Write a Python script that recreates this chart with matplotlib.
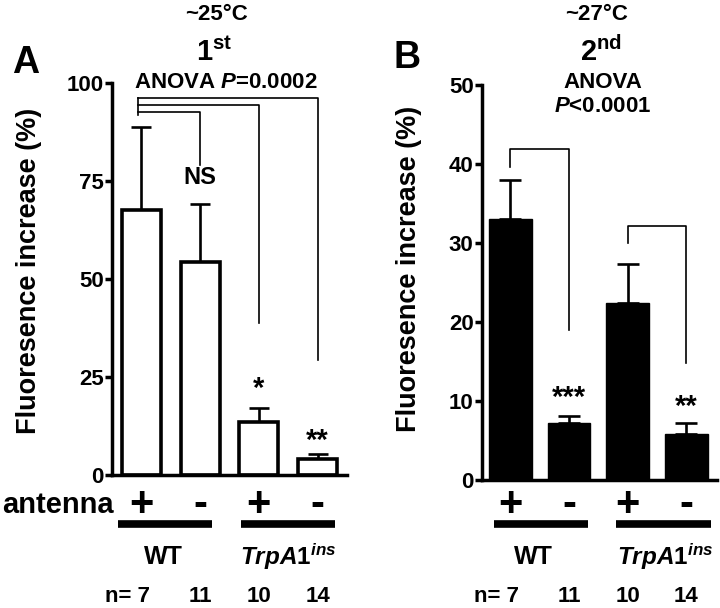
import numpy as np
import matplotlib
matplotlib.use('Agg')
import matplotlib.pyplot as plt
import matplotlib.transforms as mtransforms

plt.rcParams['font.family'] = ['Liberation Sans', 'DejaVu Sans']
plt.rcParams['font.weight'] = 'bold'
plt.rcParams['mathtext.fontset'] = 'custom'
plt.rcParams['mathtext.rm'] = 'Liberation Sans:bold'
plt.rcParams['mathtext.bf'] = 'Liberation Sans:bold'
plt.rcParams['mathtext.it'] = 'Liberation Sans:italic:bold'

# data
groups = ['WT', 'WT', 'TrpA1', 'TrpA1']
antenna = ['+', '-', '+', '-']
n_vals = ['7', '11', '10', '14']

a_mean = [67.6, 54.3, 13.6, 4.1]
a_err = [21.2, 14.8, 3.4, 1.3]
a_stars = ['', 'NS', '*', '**']
a_star_y = [None, 76, 22.0, 8.8]

b_mean = [33.0, 7.2, 22.4, 5.8]
b_err = [5.0, 0.9, 4.9, 1.4]
b_stars = ['', '***', '', '**']
b_star_y = [None, 10.4, None, 9.2]

W, H = 720, 608
fig = plt.figure(figsize=(W / 100, H / 100), dpi=100)


def fx(px):
    return px / W


def fy(py):
    return 1 - py / H


def style_axes(ax):
    for s in ['top', 'right']:
        ax.spines[s].set_visible(False)
    for s in ['left', 'bottom']:
        ax.spines[s].set_linewidth(2.5)
    ax.tick_params(axis='y', width=2.5, length=5, labelsize=16, pad=1)
    ax.set_xticks([])
    for lab in ax.get_yticklabels():
        lab.set_fontweight('bold')


x = np.arange(4)

# ---------------- panel A
axA = fig.add_axes([fx(112), fy(475), fx(235), (475 - 83) / H])
axA.bar(x, a_mean, width=0.66, color='white', edgecolor='black', linewidth=2.6, zorder=2)
axA.errorbar(x, a_mean, yerr=[np.zeros(4), a_err], fmt='none', ecolor='black',
             elinewidth=1.9, capsize=7, capthick=1.9, zorder=1)
axA.set_xlim(-0.5, 3.5)
axA.set_ylim(0, 100)
axA.set_yticks([0, 25, 50, 75, 100])
style_axes(axA)
axA.set_ylabel('Fluoresence increase (%)', fontsize=19.5, fontweight='bold')
axA.yaxis.set_label_coords(-0.298, 0.52)
for i in range(4):
    if a_stars[i]:
        axA.text(x[i], a_star_y[i], a_stars[i], ha='center', va='center',
                 fontsize=17 if a_stars[i] == 'NS' else 21, fontweight='bold')

# comparison brackets against bar 1
br_x0 = -0.05
br_top = [92.6, 94.4, 96.2]
br_end = [79.1, 38.8, 29.3]
for k, (yt, ye) in enumerate(zip(br_top, br_end)):
    axA.plot([br_x0, x[k + 1], x[k + 1]], [yt, yt, ye], color='black', lw=1.2, clip_on=False)
axA.plot([br_x0, br_x0], [max(br_top), 91.8], color='black', lw=1.2, clip_on=False)

# ---------------- panel B
axB = fig.add_axes([fx(482), fy(480), fx(235), (480 - 85) / H])
axB.bar(x, b_mean, width=0.73, color='black', edgecolor='black', linewidth=1, zorder=2)
axB.errorbar(x, b_mean, yerr=[np.zeros(4), b_err], fmt='none', ecolor='black',
             elinewidth=1.9, capsize=8, capthick=1.9, zorder=1)
axB.set_xlim(-0.48, 3.52)
axB.set_ylim(0, 50)
axB.set_yticks([0, 10, 20, 30, 40, 50])
style_axes(axB)
axB.set_ylabel('Fluoresence increase (%)', fontsize=19.5, fontweight='bold')
axB.yaxis.set_label_coords(-0.255, 0.534)
for i in range(4):
    if b_stars[i]:
        axB.text(x[i], b_star_y[i], b_stars[i], ha='center', va='center',
                 fontsize=21, fontweight='bold')

b_br = [(0, 1, 41.9, 39.6, 19.0), (2, 3, 32.2, 30.0, 14.8)]
for i0, i1, yt, yl, yr in b_br:
    axB.plot([x[i0], x[i0], x[i1], x[i1]], [yl, yt, yt, yr], color='black', lw=1.2, clip_on=False)

# ---------------- labels under the axes
for ax, line_spans, wt_x, trp_x in [
        (axA, [(-0.4, 1.2), (1.7, 3.3)], 0.37, 2.5),
        (axB, [(-0.27, 1.33), (1.8, 3.42)], 0.39, 2.63)]:
    tr = mtransforms.blended_transform_factory(ax.transData, fig.transFigure)
    for i in range(4):
        fig.text(x[i], fy(505), antenna[i], transform=tr, ha='center', va='center',
                 fontsize=30, fontweight='bold')
    for x0, x1 in line_spans:
        ax.plot([x0, x1], [fy(524), fy(524)], transform=tr, color='black', lw=5.5,
                solid_capstyle='butt', clip_on=False)
    fig.text(wt_x, fy(557), 'WT', transform=tr, ha='center', va='center', fontsize=18)
    fig.text(trp_x, fy(557), r'$\mathit{TrpA1^{ins}}$', transform=tr, ha='center',
             va='center', fontsize=17.5)
    fig.text(x[0] + 0.15, fy(597), 'n= ' + n_vals[0], transform=tr, ha='right', va='center',
             fontsize=16)
    for i in range(1, 4):
        fig.text(x[i], fy(597), n_vals[i], transform=tr, ha='center', va='center', fontsize=16)

fig.text(fx(2), fy(505), 'antenna', ha='left', va='center', fontsize=21)

# titles
fig.text(fx(26), fy(63), 'A', ha='center', va='center', fontsize=27)
fig.text(fx(407), fy(58), 'B', ha='center', va='center', fontsize=27)
fig.text(fx(216), fy(14), '~25°C', ha='center', va='center', fontsize=16)
fig.text(fx(597), fy(14), '~27°C', ha='center', va='center', fontsize=16)
fig.text(fx(214), fy(52), r'1$^{\mathrm{st}}$', ha='center', va='center', fontsize=21)
fig.text(fx(601), fy(52), r'2$^{\mathrm{nd}}$', ha='center', va='center', fontsize=21)
fig.text(fx(226), fy(82), r'ANOVA $P$=0.0002', ha='center', va='center', fontsize=16)
fig.text(fx(603), fy(82), 'ANOVA', ha='center', va='center', fontsize=16)
fig.text(fx(603), fy(107), r'$P$<0.0001', ha='center', va='center', fontsize=16)

fig.savefig('out.png', dpi=100)
